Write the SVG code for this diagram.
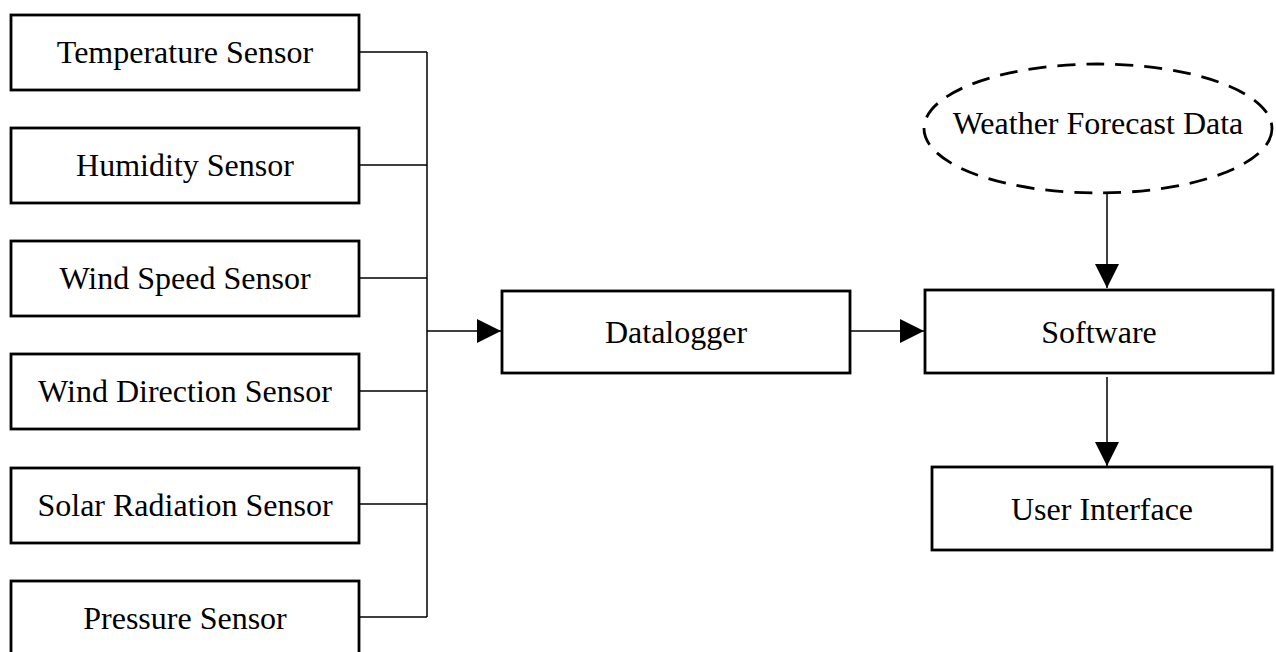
<svg xmlns="http://www.w3.org/2000/svg" width="1276" height="652" viewBox="0 0 1276 652">
<style>
.box{fill:#fff;stroke:#000;stroke-width:2.8}
.dash{fill:#fff;stroke:#000;stroke-width:2.8;stroke-dasharray:18 11}
.lbl{font-family:"Liberation Serif","Times New Roman",serif;font-size:32px;fill:#000;text-anchor:middle}
.ln{fill:none;stroke:#000;stroke-width:1.5}
</style>
<defs>
<marker id="ah" markerUnits="userSpaceOnUse" markerWidth="24" markerHeight="24" refX="24" refY="12" orient="auto">
<path d="M0,0 L24,12 L0,24 Z" fill="#000"/>
</marker>
</defs>
<rect width="1276" height="652" fill="#fff"/>
<g id="connectors">
<path class="ln" d="M360,52 H427 M360,165 H427 M360,278 H427 M360,391 H427 M360,504 H427 M360,617 H427 M427,52 V617"/>
<line class="ln" x1="427" y1="331" x2="501" y2="331" marker-end="url(#ah)"/>
<line class="ln" x1="851" y1="331" x2="924" y2="331" marker-end="url(#ah)"/>
<line class="ln" x1="1107" y1="194" x2="1107" y2="288" marker-end="url(#ah)"/>
<line class="ln" x1="1107" y1="377" x2="1107" y2="466" marker-end="url(#ah)"/>
</g>
<g id="temperature"><rect class="box" x="11" y="15" width="348" height="75"/><text class="lbl" x="185" y="63">Temperature Sensor</text></g>
<g id="humidity"><rect class="box" x="11" y="128" width="348" height="75"/><text class="lbl" x="185" y="176">Humidity Sensor</text></g>
<g id="windspeed"><rect class="box" x="11" y="241" width="348" height="75"/><text class="lbl" x="185" y="289">Wind Speed Sensor</text></g>
<g id="winddirection"><rect class="box" x="11" y="354" width="348" height="75"/><text class="lbl" x="185" y="402">Wind Direction Sensor</text></g>
<g id="solar"><rect class="box" x="11" y="468" width="348" height="75"/><text class="lbl" x="185" y="516">Solar Radiation Sensor</text></g>
<g id="pressure"><rect class="box" x="11" y="581" width="348" height="75"/><text class="lbl" x="185" y="629">Pressure Sensor</text></g>
<g id="datalogger"><rect class="box" x="502" y="291" width="348" height="82"/><text class="lbl" x="676" y="343">Datalogger</text></g>
<g id="software"><rect class="box" x="925" y="290" width="348" height="83"/><text class="lbl" x="1099" y="343">Software</text></g>
<g id="forecast"><ellipse class="dash" cx="1098" cy="128.5" rx="174" ry="64.5"/><text class="lbl" x="1098" y="134">Weather Forecast Data</text></g>
<g id="ui"><rect class="box" x="932" y="467" width="340" height="83"/><text class="lbl" x="1102" y="520">User Interface</text></g>
</svg>
